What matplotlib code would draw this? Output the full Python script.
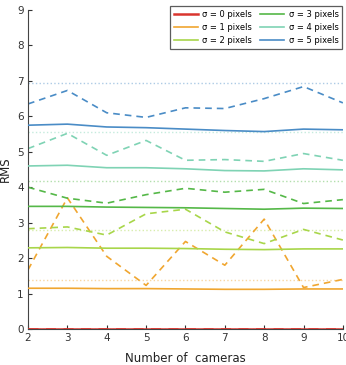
import matplotlib
matplotlib.use("Agg")
import matplotlib.pyplot as plt

cameras = [2, 3, 4, 5, 6, 7, 8, 9, 10]
sigmas = [0, 1, 2, 3, 4, 5]
labels = ["σ = 0 pixels", "σ = 1 pixels", "σ = 2 pixels",
          "σ = 3 pixels", "σ = 4 pixels", "σ = 5 pixels"]
colors = ["#d9352e", "#f0a630", "#a8d64a", "#55b848", "#7fd3b4", "#4a8cc6"]

solid_0 = [0.0, 0.0, 0.0, 0.0, 0.0, 0.0, 0.0, 0.0, 0.0]
solid_1 = [1.15, 1.15, 1.14, 1.14, 1.13, 1.12, 1.12, 1.13, 1.13]
solid_2 = [2.29, 2.30, 2.28, 2.28, 2.27, 2.25, 2.24, 2.26, 2.26]
solid_3 = [3.46, 3.46, 3.44, 3.43, 3.42, 3.40, 3.38, 3.41, 3.40]
solid_4 = [4.60, 4.62, 4.55, 4.55, 4.52, 4.47, 4.46, 4.52, 4.49]
solid_5 = [5.75, 5.78, 5.70, 5.68, 5.64, 5.60, 5.57, 5.64, 5.62]

dashed_0 = [0.01, 0.01, 0.01, 0.01, 0.01, 0.01, 0.01, 0.01, 0.01]
dashed_1 = [1.67, 3.70, 2.05, 1.23, 2.47, 1.80, 3.10, 1.17, 1.40]
dashed_2 = [2.83, 2.88, 2.65, 3.25, 3.38, 2.74, 2.41, 2.81, 2.51]
dashed_3 = [4.00, 3.69, 3.55, 3.79, 3.97, 3.86, 3.94, 3.54, 3.65]
dashed_4 = [5.09, 5.52, 4.90, 5.32, 4.76, 4.78, 4.73, 4.95, 4.76]
dashed_5 = [6.35, 6.73, 6.10, 5.97, 6.24, 6.22, 6.50, 6.84, 6.38]

theory = [0.0, 1.39, 2.78, 4.17, 5.56, 6.95]

solids = [solid_0, solid_1, solid_2, solid_3, solid_4, solid_5]
dasheds = [dashed_0, dashed_1, dashed_2, dashed_3, dashed_4, dashed_5]

fig = plt.figure(figsize=(3.46, 3.65), dpi=100)
ax = fig.add_axes([0.081, 0.0986, 0.91, 0.874])

for i in range(len(sigmas)):
    ax.axhline(theory[i], color=colors[i], linestyle=":", linewidth=1.0, alpha=0.45, zorder=1)
for i in range(len(sigmas)):
    lw = 1.8 if i == 0 else 1.2
    ax.plot(cameras, dasheds[i], color=colors[i], linestyle=(0, (4, 3)), linewidth=lw, zorder=2)
handles = []
for i in range(len(sigmas)):
    lw = 1.8 if i == 0 else 1.2
    h, = ax.plot(cameras, solids[i], color=colors[i], linestyle="-", linewidth=lw,
                 label=labels[i], zorder=3)
    handles.append(h)

ax.set_xlim(2, 10)
ax.set_ylim(0, 9)
ax.set_xticks(cameras)
ax.set_yticks(range(0, 10))
ax.tick_params(direction="in", length=3, labelsize=7.5, colors="#333333", pad=3)
for s in ["top", "right"]:
    ax.spines[s].set_visible(False)
for s in ["left", "bottom"]:
    ax.spines[s].set_color("#444444")
    ax.spines[s].set_linewidth(0.8)

ax.set_xlabel("Number of  cameras", fontsize=8.5, color="#222222", labelpad=6)
ax.set_ylabel("RMS", fontsize=8.5, color="#222222", labelpad=4)

leg = ax.legend(handles=handles, ncol=2, loc="upper right", bbox_to_anchor=(0.998, 1.012),
                fontsize=6.0, frameon=True, fancybox=False, handlelength=2.9,
                columnspacing=1.0, handletextpad=0.5, labelspacing=0.5,
                borderpad=0.45, borderaxespad=0.0)
leg.get_frame().set_edgecolor("#333333")
leg.get_frame().set_linewidth(0.9)

fig.savefig("out.png", dpi=100)
